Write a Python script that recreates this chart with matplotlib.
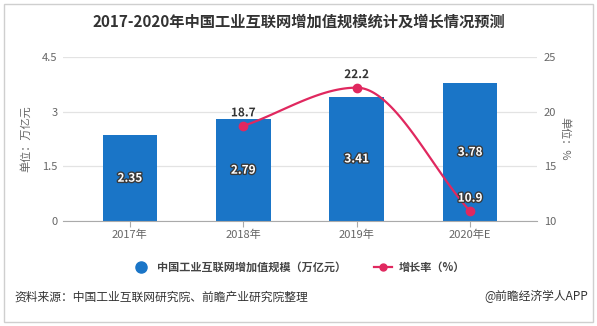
import numpy as np
import matplotlib
matplotlib.use("Agg")
import matplotlib.pyplot as plt
import matplotlib.patheffects as pe
from matplotlib.lines import Line2D
from matplotlib.patches import Rectangle

plt.rcParams['font.family'] = ['Noto Sans CJK SC', 'DejaVu Sans']

years = ['2017年', '2018年', '2019年', '2020年E']
scale_values = [2.35, 2.79, 3.41, 3.78]
growth_years_idx = [1, 2, 3]
growth_values = [18.7, 22.2, 10.9]
left_ticks = [0, 1.5, 3, 4.5]
right_ticks = [10, 15, 20, 25]

title = '2017-2020年中国工业互联网增加值规模统计及增长情况预测'
bar_name = '中国工业互联网增加值规模（万亿元）'
line_name = '增长率（%）'
source = '资料来源：中国工业互联网研究院、前瞻产业研究院整理'
credit = '@前瞻经济学人APP'

BLUE = '#1a75c7'
RED = '#e0285f'
GRID = '#e3e3e3'
TICK = '#666666'

fig = plt.figure(figsize=(5.97, 3.26), dpi=100)
fig.patch.set_facecolor('white')

# outer border
fig.add_artist(Rectangle((0.006, 0.012), 0.988, 0.976, transform=fig.transFigure,
                         fill=False, edgecolor='#cfcfcf', linewidth=1.0))

ax = fig.add_axes([0.1055, 0.322, 0.794, 0.503])
x = np.arange(len(years))
ax.bar(x, scale_values, width=0.48, color=BLUE, zorder=2)
ax.set_xlim(-0.59, 3.59)
ax.set_ylim(0, 4.5)
ax.set_yticks(left_ticks)
ax.set_yticklabels(['0', '1.5', '3', '4.5'])
ax.set_xticks(x)
ax.set_xticklabels(years)
ax.grid(axis='y', color=GRID, linewidth=0.9, zorder=0)
ax.set_axisbelow(True)
for s in ['top', 'right', 'left']:
    ax.spines[s].set_visible(False)
ax.spines['bottom'].set_color('#aaaaaa')
ax.tick_params(axis='y', length=0, labelsize=8, labelcolor=TICK, pad=4)
ax.tick_params(axis='x', length=4, color='#aaaaaa', labelsize=8, labelcolor=TICK, pad=2)
ax.set_ylabel('单位：万亿元', fontsize=8, color=TICK, labelpad=8)

for xi, v in zip(x, scale_values):
    ax.text(xi, v / 2, f'{v:.2f}', ha='center', va='center', color='white',
            fontsize=8.5, fontweight='bold', zorder=5,
            path_effects=[pe.withStroke(linewidth=2, foreground='#3a3a3a')])

ax2 = ax.twinx()
ax2.set_ylim(10, 25)
ax2.set_yticks(right_ticks)
for s in ['top', 'right', 'left', 'bottom']:
    ax2.spines[s].set_visible(False)
ax2.tick_params(axis='y', length=0, labelsize=8, labelcolor=TICK, pad=5)
ax2.set_ylabel('单位：%', fontsize=8, color=TICK, rotation=-90, labelpad=10)

# smooth monotone hermite curve through growth points
gx = np.array(growth_years_idx, dtype=float)
gy = np.array(growth_values, dtype=float)
sec = np.diff(gy) / np.diff(gx)
tang = np.zeros_like(gy)
tang[0] = sec[0]
tang[-1] = sec[-1]
for i in range(1, len(gy) - 1):
    if sec[i - 1] * sec[i] > 0:
        tang[i] = 2 / (1 / sec[i - 1] + 1 / sec[i])
    else:
        tang[i] = 0.0
cx, cy = [], []
for i in range(len(gx) - 1):
    h = gx[i + 1] - gx[i]
    t = np.linspace(0, 1, 60)
    h00 = 2 * t**3 - 3 * t**2 + 1
    h10 = t**3 - 2 * t**2 + t
    h01 = -2 * t**3 + 3 * t**2
    h11 = t**3 - t**2
    cx.extend(gx[i] + t * h)
    cy.extend(h00 * gy[i] + h10 * h * tang[i] + h01 * gy[i + 1] + h11 * h * tang[i + 1])
ax2.plot(cx, cy, color=RED, linewidth=1.6, zorder=4)
ax2.plot(gx, gy, 'o', color=RED, markersize=6, zorder=5)
for xi, v in zip(gx, gy):
    if v < 12:
        ax2.text(xi, v + 0.6, f'{v:.1f}', ha='center', va='bottom', color='white',
                 fontsize=8.5, fontweight='bold', zorder=6,
                 path_effects=[pe.withStroke(linewidth=2, foreground='#3a3a3a')])
    else:
        ax2.text(xi, v + 0.6, f'{v:.1f}', ha='center', va='bottom', color='#333333',
                 fontsize=8.5, fontweight='bold', zorder=6,
                 path_effects=[pe.withStroke(linewidth=2, foreground='white')])

fig.text(0.5, 0.933, title, ha='center', va='center', fontsize=11,
         fontweight='bold', color='#333333')

handles = [Line2D([], [], marker='o', linestyle='none', color=BLUE, markersize=8),
           Line2D([], [], marker='o', color=RED, markersize=5, linewidth=1.6)]
fig.legend(handles, [bar_name, line_name], loc='center', bbox_to_anchor=(0.5, 0.18),
           ncol=2, frameon=False, prop={'size': 8, 'weight': 'bold'},
           labelcolor='#444444', handlelength=1.6, columnspacing=2.5, handletextpad=0.6)

fig.text(0.025, 0.09, source, ha='left', va='center', fontsize=8.5, color='#333333')
fig.text(0.985, 0.09, credit, ha='right', va='center', fontsize=8.5, color='#333333')

fig.savefig('out.png', dpi=100, facecolor='white')
